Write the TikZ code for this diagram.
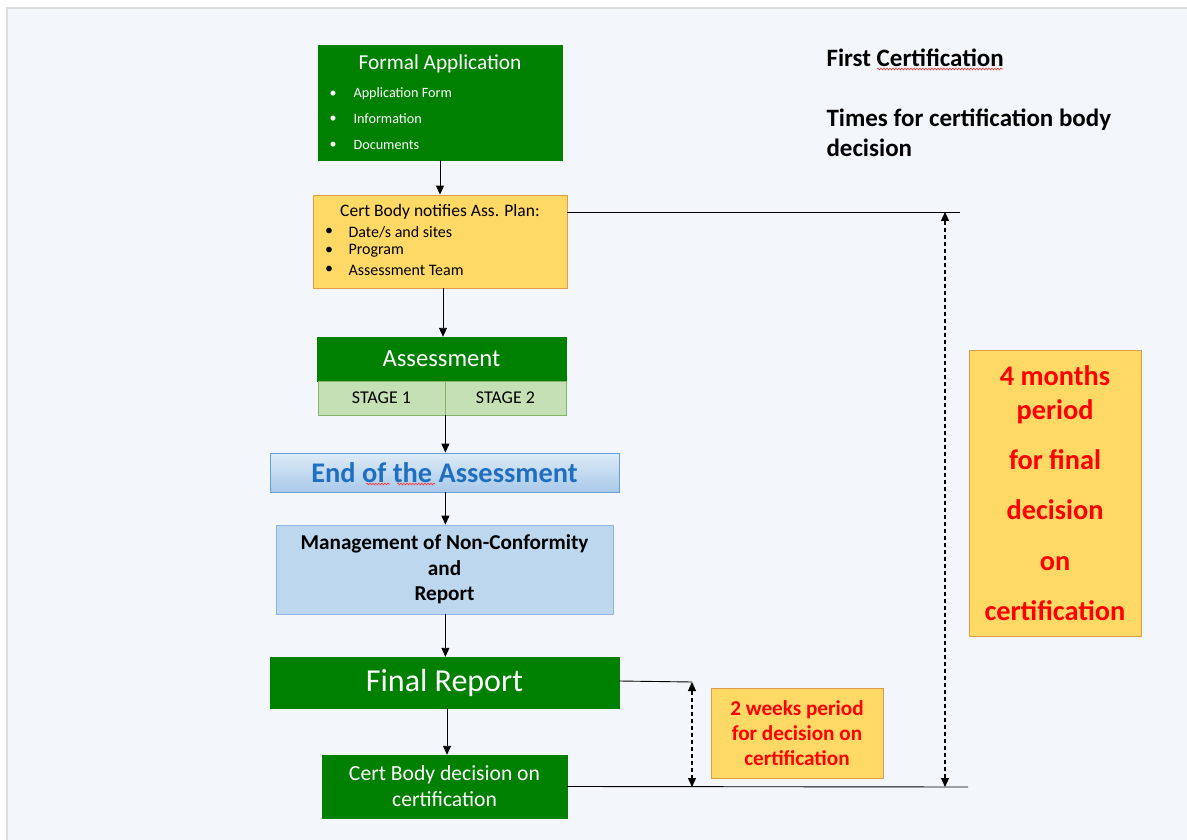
\documentclass[tikz,border=0pt]{standalone}
\usepackage{fontspec}
\setmainfont{Carlito}
\usetikzlibrary{arrows.meta,decorations.pathmorphing}
\definecolor{boxgreen}{HTML}{008000}
\definecolor{planfill}{HTML}{FFD966}
\definecolor{planedge}{HTML}{E09A48}
\definecolor{stagefill}{HTML}{C5E0B4}
\definecolor{stageedge}{HTML}{84B46A}
\definecolor{endtop}{HTML}{DDEBF7}
\definecolor{endbot}{HTML}{A9C9E9}
\definecolor{endedge}{HTML}{6A9FD4}
\definecolor{endtext}{HTML}{1F6FC0}
\definecolor{mgmtfill}{HTML}{BDD7EE}
\definecolor{mgmtedge}{HTML}{8EB4E3}
\definecolor{pagebg}{HTML}{F3F7FB}
\definecolor{pageedge}{HTML}{DCDCDC}
\begin{document}
\begin{tikzpicture}[x=1pt,y=-1pt]
        \tikzstyle{green}=[rectangle, fill=boxgreen, draw=boxgreen, text=white, inner sep=0pt]
        \tikzstyle{plan}=[rectangle, fill=planfill, draw=planedge, line width=0.8pt, inner sep=0pt]
        \tikzstyle{stagebox}=[rectangle, fill=stagefill, draw=stageedge, line width=0.8pt, inner sep=0pt, minimum height=34pt, font=\fontsize{18}{20}\selectfont]
        \tikzstyle{arr}=[-{Triangle[length=9pt,width=8pt]}, line width=0.9pt]
        \tikzstyle{span}=[{Triangle[length=9pt,width=8pt]}-{Triangle[length=9pt,width=8pt]}, line width=1.1pt, dash pattern=on 4pt off 3pt]
        \tikzstyle{redtext}=[text=red, font=\bfseries, align=center]
        \tikzstyle{squiggle}=[red!80, line width=0.6pt, decorate, decoration={snake, amplitude=0.9pt, segment length=3pt}]

        \useasboundingbox (0,0) rectangle (1187,840);
        \fill[white] (0,0) rectangle (1187,840);
        \fill[pagebg] (7,8) rectangle (1187,840);
        \draw[pageedge, line width=1.2pt] (7,840) -- (7,8) -- (1187,8);

        \node[green, minimum width=244pt, minimum height=115pt] (formal) at (440,102.5) {};
        \node[text=white, font=\fontsize{21.3}{23}\selectfont] (formaltitle) at (440,64) {Formal Application};
        \node[text=white, font=\fontsize{14}{16}\selectfont] (fb1) at (333,94) {\textbullet};
        \node[text=white, font=\fontsize{14}{16}\selectfont] (fb2) at (333,119) {\textbullet};
        \node[text=white, font=\fontsize{14}{16}\selectfont] (fb3) at (333,145) {\textbullet};
        \node[anchor=west, text=white, font=\fontsize{14.2}{16}\selectfont] (fi1) at (350,94) {Application Form};
        \node[anchor=west, text=white, font=\fontsize{14.2}{16}\selectfont] (fi2) at (350,119) {Information};
        \node[anchor=west, text=white, font=\fontsize{14.2}{16}\selectfont] (fi3) at (350,145) {Documents};

        \node[plan, minimum width=254pt, minimum height=93pt] (notify) at (440,241.5) {};
        \node[font=\fontsize{17.5}{19}\selectfont] (notifytitle) at (440,212) {Cert Body notifies Ass. Plan:};
        \node[font=\fontsize{16}{18}\selectfont] (nb1) at (329,232) {\textbullet};
        \node[font=\fontsize{16}{18}\selectfont] (nb2) at (329,251) {\textbullet};
        \node[font=\fontsize{16}{18}\selectfont] (nb3) at (329,270) {\textbullet};
        \node[anchor=west, font=\fontsize{16}{18}\selectfont] (ni1) at (345,232) {Date/s and sites};
        \node[anchor=west, font=\fontsize{16}{18}\selectfont] (ni2) at (345,251) {Program};
        \node[anchor=west, font=\fontsize{16}{18}\selectfont] (ni3) at (345,270) {Assessment Team};

        \node[green, minimum width=249pt, minimum height=44pt, font=\fontsize{24.6}{26}\selectfont] (assess) at (441.5,359) {Assessment};
        \node[stagebox, minimum width=127pt] (stage1) at (381.5,398) {STAGE 1};
        \node[stagebox, minimum width=121pt] (stage2) at (505.5,398) {STAGE 2};

        \node[rectangle, top color=endtop, bottom color=endbot, draw=endedge, line width=0.8pt, minimum width=349pt, minimum height=39pt, text=endtext, font=\fontsize{28.4}{30}\selectfont\bfseries] (endass) at (444.5,472.5) {End of the Assessment};

        \node[rectangle, fill=mgmtfill, draw=mgmtedge, line width=0.8pt, minimum width=337pt, minimum height=89pt, align=center, font=\fontsize{21.2}{25.5}\selectfont\bfseries] (mgmt) at (444.5,569.5) {Management of Non-Conformity\\and\\Report};

        \node[green, minimum width=349pt, minimum height=51pt, font=\fontsize{32}{34}\selectfont] (final) at (444.5,682.5) {Final Report};

        \node[green, minimum width=245pt, minimum height=63pt, align=center, font=\fontsize{21.6}{26}\selectfont] (decide) at (444.5,786.5) {Cert Body decision on\\certification};

        \node[plan, minimum width=172pt, minimum height=286pt, redtext, font=\fontsize{28.3}{34}\selectfont\bfseries] (months) at (1055,493) {4 months\\period\\[16pt]for final\\[16pt]decision\\[17pt]on\\[16pt]certification};
        \node[plan, minimum width=172pt, minimum height=90pt, redtext, font=\fontsize{21.2}{25}\selectfont\bfseries] (weeks) at (797,733) {2 weeks period\\for decision on\\certification};

        \node[anchor=west, font=\fontsize{25}{27}\selectfont\bfseries] (first) at (823,58) {First Certification};
        \node[anchor=west, align=left, font=\fontsize{25}{30}\selectfont\bfseries] (times) at (823,133) {Times for certification body\\decision};

        \coordinate (top4) at (945,212);
        \coordinate (end4) at (960,212);
        \coordinate (bot4) at (945,787);
        \coordinate (end4b) at (968,787);
        \coordinate (top2) at (692,682);
        \coordinate (bot2) at (692,787);

        \draw[arr] (formal) -- (formal |- notify.north);
        \draw[arr] (notify.south -| 443,0) -- (443,0 |- assess.north);
        \draw[arr] (stage1.south east) -- (stage1.south east |- endass.north);
        \draw[arr] (endass.south -| stage1.east) -- (stage1.east |- mgmt.north);
        \draw[arr] (mgmt.south -| stage1.east) -- (stage1.east |- final.north);
        \draw[arr] (final.south -| 447,0) -- (447,0 |- decide.north);

        \draw[line width=0.9pt] (notify.east |- notifytitle) -- (end4);
        \draw[line width=0.9pt] (final.east |- 0,681) -- (top2);
        \draw[line width=0.9pt] (decide.east) -- (end4b);
        \draw[span] (top4) -- (bot4);
        \draw[span] (top2) -- (bot2);

        \draw[squiggle] (877,69) -- (1003,69);
        \draw[squiggle] (366,484) -- (390,484);
        \draw[squiggle] (397,484) -- (435,484);
\end{tikzpicture}
\end{document}
